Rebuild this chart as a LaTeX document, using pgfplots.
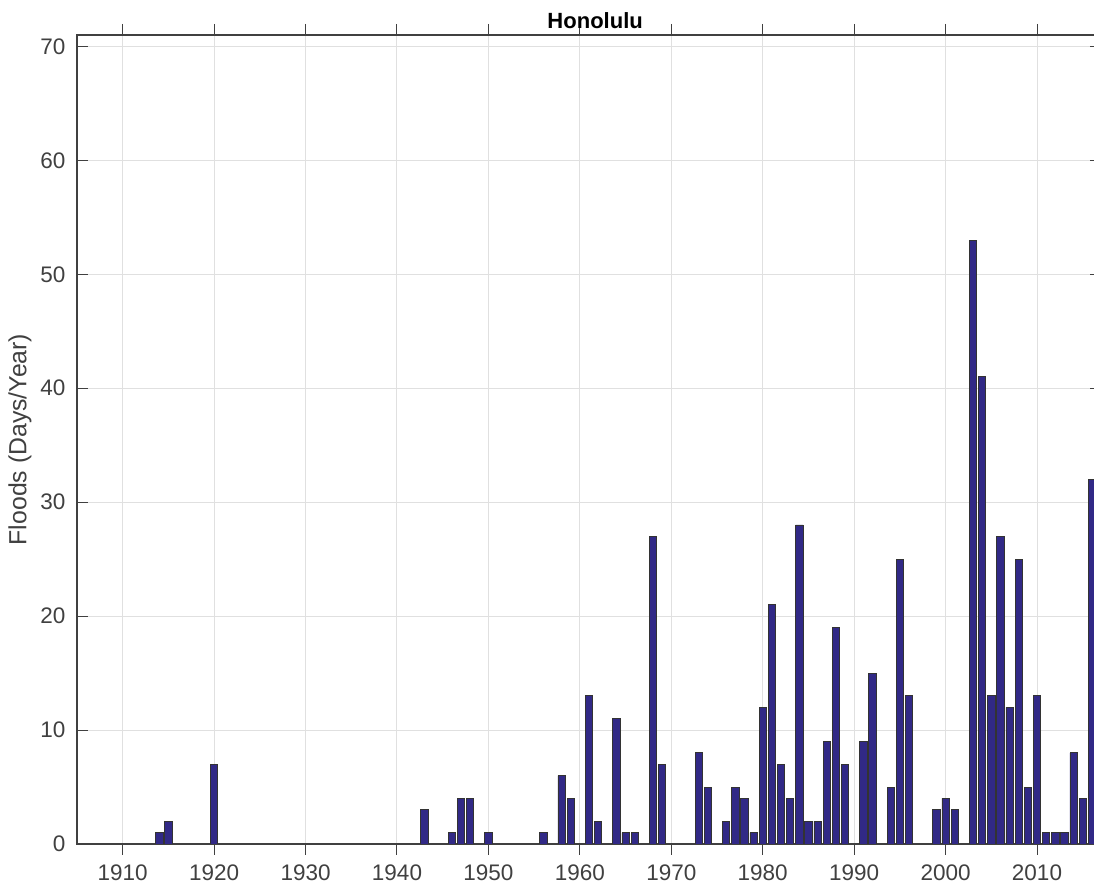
\documentclass[border=0pt]{standalone}
\usepackage{pgfplots}
\pgfplotsset{compat=1.18}
\usepackage{fontspec}
\setmainfont{Liberation Sans}
\definecolor{barfill}{RGB}{49,41,134}
\definecolor{axcol}{RGB}{64,64,64}
\definecolor{gridcol}{RGB}{224,224,224}
\begin{document}
\begin{tikzpicture}
\begin{axis}[
  name=ax,
  scale only axis,
  width=512pt, height=404.5pt,
  xmin=1905, xmax=2017,
  ymin=0, ymax=71,
  xtick={1910,1920,...,2010},
  ytick={0,10,...,70},
  /pgf/number format/1000 sep={},
  /pgf/number format/assume math mode=true,
  tick label style={font=\fontsize{11.25}{13}\selectfont, text=axcol},
  xticklabel style={yshift=-1.3pt},
  yticklabel style={xshift=-2.3pt},
  major tick length=5.5pt,
  tick style={axcol, line width=0.5pt},
  axis line style={axcol, line width=0.7pt},
  grid=major,
  major grid style={gridcol, line width=0.5pt},
  axis on top=false,
  ylabel={Floods (Days/Year)},
  ylabel style={at={(axis description cs:-0.0557,0.5)}, anchor=center, rotate=0, font=\fontsize{12.4}{14}\selectfont, text=axcol},
  title={\textbf{Honolulu}},
  title style={at={(axis description cs:0.506,1)}, anchor=base, yshift=-3pt, font=\fontsize{11}{13}\selectfont, text=black},
  ybar, bar width=0.8,
]
\addplot[fill=barfill, draw=black!80, line width=0.4pt] coordinates {
(1914,1) (1915,2) (1920,7) (1943,3) (1946,1) (1947,4) (1948,4) (1950,1)
(1956,1) (1958,6) (1959,4) (1961,13) (1962,2) (1964,11) (1965,1) (1966,1)
(1968,27) (1969,7) (1973,8) (1974,5) (1976,2) (1977,5) (1978,4) (1979,1)
(1980,12) (1981,21) (1982,7) (1983,4) (1984,28) (1985,2) (1986,2) (1987,9)
(1988,19) (1989,7) (1991,9) (1992,15) (1994,5) (1995,25) (1996,13)
(1999,3) (2000,4) (2001,3) (2003,53) (2004,41) (2005,13) (2006,27)
(2007,12) (2008,25) (2009,5) (2010,13) (2011,1) (2012,1) (2013,1)
(2014,8) (2015,4) (2016,32)
};
\end{axis}
\pgfresetboundingbox
\path[use as bounding box] ([xshift=-38.5pt,yshift=-20pt]ax.south west) rectangle ([xshift=-3.5pt,yshift=17.5pt]ax.north east);
\end{tikzpicture}
\end{document}
